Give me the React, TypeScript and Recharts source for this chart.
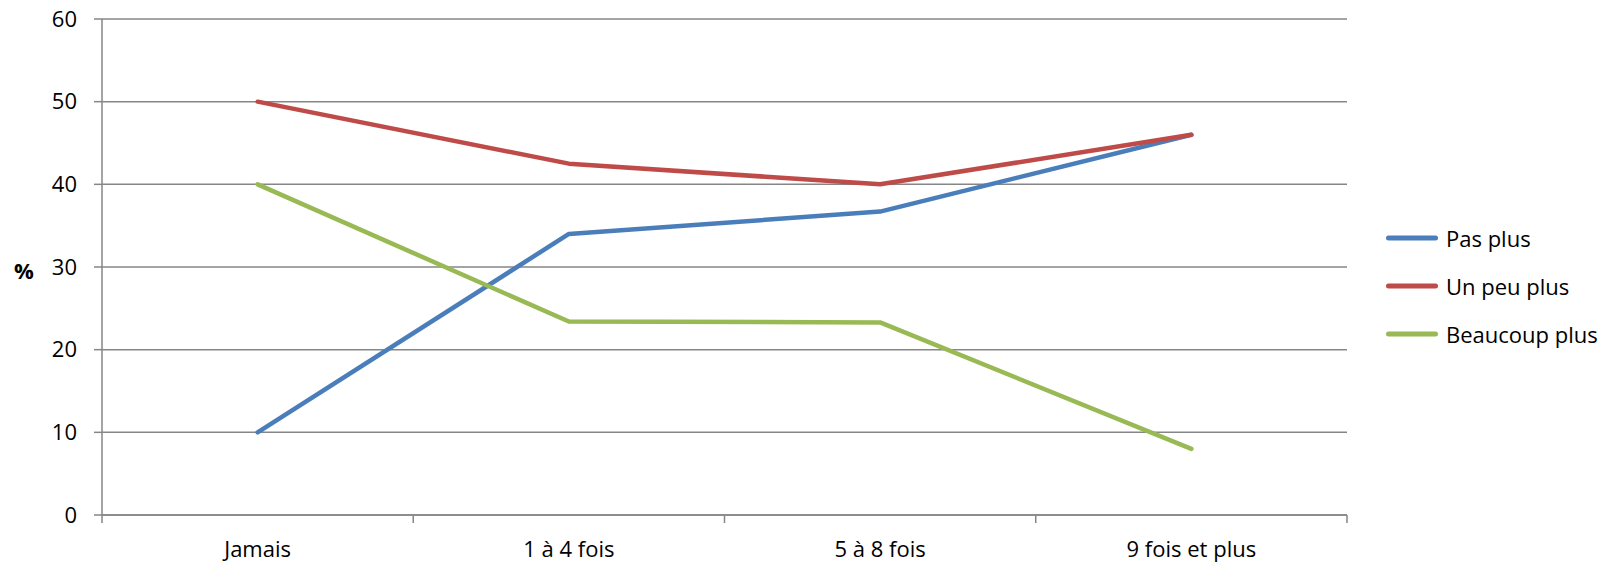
import React from "react";
import { LineChart, Line, XAxis, YAxis, CartesianGrid, Legend } from "recharts";

const categories = ["Jamais", "1 à 4 fois", "5 à 8 fois", "9 fois et plus"];
const pasPlus = [10, 34.0, 36.7, 46.0];
const unPeuPlus = [50, 42.5, 40.0, 46.0];
const beaucoupPlus = [40, 23.4, 23.3, 8.0];
const yTicks = [0, 10, 20, 30, 40, 50, 60];
const seriesNames = ["Pas plus", "Un peu plus", "Beaucoup plus"];

const BLUE = "#4A7EBB";
const RED = "#BE4B48";
const GREEN = "#98B954";
const GRID = "#868686";
const FONT = "'Open Sans', 'Noto Sans', sans-serif";
const FS = 22;

const rows = categories.map((c, i) => ({
  pos: i + 0.5,
  cat: c,
  pas: pasPlus[i],
  peu: unPeuPlus[i],
  beaucoup: beaucoupPlus[i],
}));

const xTicks: number[] = [];
for (let i = 0; i <= categories.length * 2; i++) xTicks.push(i / 2);

const XTick = (props: any) => {
  const { x, y, payload } = props;
  const v = payload.value as number;
  if (Number.isInteger(v)) {
    return <line x1={x} x2={x} y1={y} y2={y + 8} stroke={GRID} strokeWidth={1.5} />;
  }
  return (
    <text x={x} y={y + 42} textAnchor="middle" fontSize={FS} fill="#000" fontFamily={FONT}>
      {categories[Math.floor(v)]}
    </text>
  );
};

const renderLegend = (props: any) => {
  const items = [...(props.payload || [])].sort(
    (a: any, b: any) => seriesNames.indexOf(a.value) - seriesNames.indexOf(b.value)
  );
  return (
    <div style={{ fontFamily: FONT, fontSize: FS, color: "#000" }}>
      {items.map((entry: any, i: number) => (
        <div key={i} style={{ display: "flex", alignItems: "center", height: 48 }}>
          <svg width={52} height={6} style={{ display: "block" }}>
            <line x1={2.5} x2={49.5} y1={3} y2={3} stroke={entry.color} strokeWidth={5} strokeLinecap="round" />
          </svg>
          <span style={{ marginLeft: 8, whiteSpace: "nowrap" }}>{entry.value}</span>
        </div>
      ))}
    </div>
  );
};

export default function App() {
  return (
    <div style={{ fontFamily: FONT, margin: "-8px 0 0 -8px", width: 1616, height: 566 }}>
      <LineChart width={1616} height={566} data={rows} margin={{ top: 19, right: 269, bottom: 0, left: 0 }}>
        <CartesianGrid vertical={false} stroke={GRID} strokeWidth={1.5} />
        <XAxis
          dataKey="pos"
          type="number"
          domain={[0, categories.length]}
          ticks={xTicks}
          interval={0}
          tick={<XTick />}
          tickLine={false}
          tickSize={0}
          tickMargin={0}
          height={51}
          axisLine={{ stroke: GRID, strokeWidth: 1.5 }}
        />
        <YAxis
          type="number"
          domain={[0, 60]}
          ticks={yTicks}
          interval={0}
          width={102}
          tickSize={8}
          tickMargin={17}
          tick={{ fontSize: FS, fill: "#000", fontFamily: FONT }}
          tickLine={{ stroke: GRID, strokeWidth: 1.5 }}
          axisLine={{ stroke: GRID, strokeWidth: 1.5 }}
          label={{
            value: "%",
            position: "insideLeft",
            offset: 14,
            dy: 4,
            style: { fontSize: FS, fontWeight: "bold", fill: "#000", fontFamily: FONT },
          }}
        />
        <Legend
          layout="vertical"
          align="center"
          verticalAlign="middle"
          itemSorter={null as any}
          content={renderLegend}
          wrapperStyle={{ left: 1386, top: 214, width: 225 }}
        />
        <Line type="linear" dataKey="pas" name={seriesNames[0]} stroke={BLUE} strokeWidth={4.5} dot={false} strokeLinecap="round" strokeLinejoin="round" isAnimationActive={false} />
        <Line type="linear" dataKey="peu" name={seriesNames[1]} stroke={RED} strokeWidth={4.5} dot={false} strokeLinecap="round" strokeLinejoin="round" isAnimationActive={false} />
        <Line type="linear" dataKey="beaucoup" name={seriesNames[2]} stroke={GREEN} strokeWidth={4.5} dot={false} strokeLinecap="round" strokeLinejoin="round" isAnimationActive={false} />
      </LineChart>
    </div>
  );
}
